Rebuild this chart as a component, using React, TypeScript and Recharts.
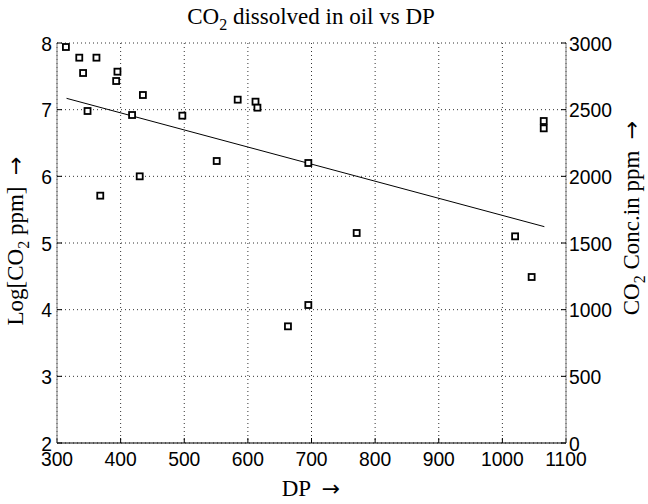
import { ScatterChart, Scatter, XAxis, YAxis, CartesianGrid } from 'recharts';

// measured points: DP vs log CO2 value
const dpValues = [314, 335, 362, 341, 395, 393, 435, 348, 418, 497, 584, 612, 615, 551, 430, 368, 695, 771, 695, 663, 1020, 1046, 1065, 1065];
const logValues = [7.94, 7.78, 7.78, 7.55, 7.57, 7.43, 7.22, 6.98, 6.92, 6.91, 7.15, 7.12, 7.03, 6.23, 6.0, 5.71, 6.2, 5.15, 4.07, 3.75, 5.1, 4.49, 6.83, 6.72];

// straight fit line end points
const fitDp = [315, 1066];
const fitLog = [7.17, 5.245];

const xTicks = [300, 400, 500, 600, 700, 800, 900, 1000, 1100];
const logTicks = [2, 3, 4, 5, 6, 7, 8];
const ppmTicks = [0, 500, 1000, 1500, 2000, 2500, 3000];

const points = dpValues.map((dp, i) => ({ dp, log: logValues[i] }));
const fitLine = fitDp.map((dp, i) => ({ dp, log: fitLog[i] }));
// invisible anchor so the right axis gets drawn
const ppmAnchor = ppmTicks.map((v) => ({ dp: 300, ppm: v }));

const SANS = '"Liberation Sans", Arial, sans-serif';
const SERIF = '"Liberation Serif", "Times New Roman", serif';

const NumTick = (props: any) => {
  const { x, y, payload, textAnchor, verticalAnchor } = props;
  const dy = verticalAnchor === 'start' ? '0.72em' : '0.36em';
  return (
    <g transform={`translate(${x},${y}) scale(0.92,1)`}>
      <text x={0} y={0} dy={dy} textAnchor={textAnchor} fontFamily={SANS} fontSize={21} fill="#000">
        {payload.value}
      </text>
    </g>
  );
};

const SquareMark = (props: any) => {
  const { cx, cy } = props;
  return <rect x={cx - 3} y={cy - 3} width={6} height={6} fill="#fff" stroke="#000" strokeWidth={1.8} />;
};

const Sub2 = () => <sub style={{ fontSize: 16, verticalAlign: '-6px', lineHeight: 0 }}>2</sub>;
const Arrow = () => <span style={{ fontFamily: '"DejaVu Sans", sans-serif', fontSize: 22 }}>→</span>;

const labelStyle = {
  position: 'absolute' as const,
  fontFamily: SERIF,
  fontSize: 23,
  lineHeight: '26px',
  whiteSpace: 'nowrap' as const,
  textAlign: 'center' as const,
};

export default function App() {
  return (
    <div style={{ position: 'absolute', left: 0, top: 0, width: 648, height: 504, background: '#fff' }}>
      <ScatterChart width={648} height={504} margin={{ top: 43, right: 0, bottom: 0, left: 0 }}>
        <CartesianGrid xAxisId="x" yAxisId="log" stroke="#333" strokeDasharray="1 3" strokeWidth={1} />
        <XAxis
          xAxisId="x"
          type="number"
          dataKey="dp"
          domain={[300, 1100]}
          ticks={xTicks}
          height={61}
          axisLine={{ stroke: '#000' }}
          tickLine={{ stroke: '#000' }}
          tickSize={-5}
          tickMargin={13}
          tick={<NumTick />}
          interval={0}
        />
        <XAxis
          xAxisId="top"
          orientation="top"
          type="number"
          domain={[300, 1100]}
          ticks={xTicks}
          height={0}
          axisLine={{ stroke: '#000' }}
          tickLine={{ stroke: '#000' }}
          tickSize={-5}
          tick={false}
        />
        <YAxis
          yAxisId="log"
          type="number"
          dataKey="log"
          domain={[2, 8]}
          ticks={logTicks}
          width={57}
          axisLine={{ stroke: '#777' }}
          tickLine={{ stroke: '#000' }}
          tickSize={-5}
          tickMargin={10}
          tick={<NumTick />}
          interval={0}
        />
        <YAxis
          yAxisId="ppm"
          orientation="right"
          type="number"
          dataKey="ppm"
          domain={[0, 3000]}
          ticks={ppmTicks}
          width={82}
          axisLine={{ stroke: '#777' }}
          tickLine={{ stroke: '#000' }}
          tickSize={-5}
          tickMargin={8}
          tick={<NumTick />}
          interval={0}
        />
        <Scatter xAxisId="top" yAxisId="ppm" data={ppmAnchor} shape={() => null} isAnimationActive={false} />
        <Scatter
          xAxisId="x"
          yAxisId="log"
          data={fitLine}
          line={{ stroke: '#000', strokeWidth: 1 }}
          shape={() => null}
          isAnimationActive={false}
        />
        <Scatter xAxisId="x" yAxisId="log" data={points} shape={<SquareMark />} isAnimationActive={false} />
      </ScatterChart>

      <div style={{ ...labelStyle, left: 0, width: 622, top: 4 }}>
        CO<Sub2 /> dissolved in oil vs DP
      </div>
      <div style={{ ...labelStyle, left: 0, width: 622, top: 476 }}>
        DP &nbsp;<Arrow />
      </div>
      <div style={{ ...labelStyle, left: 16, top: 241, width: 300, marginLeft: -150, marginTop: -13, transform: 'rotate(-90deg)' }}>
        Log[CO<Sub2 /> ppm] &nbsp;<Arrow />
      </div>
      <div style={{ ...labelStyle, left: 632, top: 218, width: 300, marginLeft: -150, marginTop: -13, transform: 'rotate(-90deg)' }}>
        CO<Sub2 /> Conc.in ppm &nbsp;<Arrow />
      </div>
    </div>
  );
}
